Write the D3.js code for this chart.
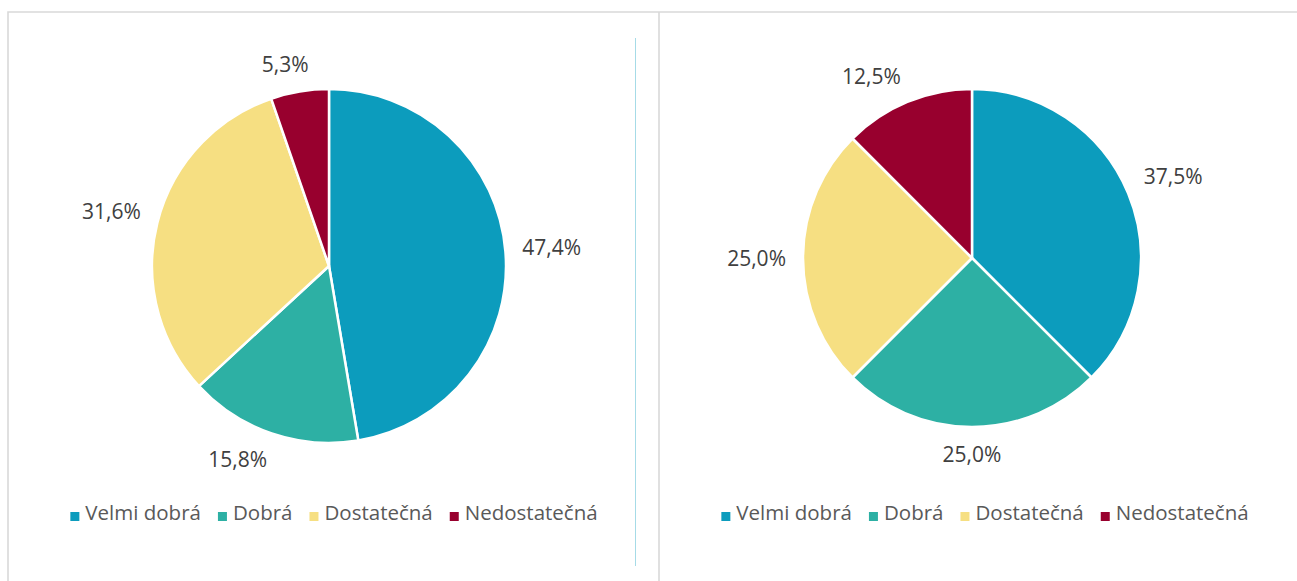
<!DOCTYPE html>
<html>
<head>
<meta charset="utf-8">
<script src="https://cdn.jsdelivr.net/npm/d3@7"></script>
<style>
  body { margin: 0; background: #fff; }
  svg { display: block; font-family: "Open Sans", sans-serif; }
</style>
</head>
<body>
<svg id="mysvg" width="1297" height="581"></svg>
<script>
let categories = ["Velmi dobrá", "Dobrá", "Dostatečná", "Nedostatečná"];
let sliceColors = ["#0c9cbd", "#2db0a4", "#f6df82", "#98002e"];
let valuesLeft = [47.4, 15.8, 31.6, 5.3];
let valuesRight = [37.5, 25.0, 25.0, 12.5];

let svg = d3.select('#mysvg');
let color = d3.scaleOrdinal().domain(categories).range(sliceColors);
let fmt = v => d3.format(".1f")(v).replace(".", ",") + "%";

// chart frames (top and left edges visible, rest runs off the page)
svg.append("path")
    .attr("d", "M8,582 V12 H1300")
    .attr("fill", "none")
    .attr("stroke", "#d9d9d9")
    .attr("stroke-width", 1.6);
svg.append("line")
    .attr("x1", 659).attr("x2", 659)
    .attr("y1", 12).attr("y2", 582)
    .attr("stroke", "#d9d9d9")
    .attr("stroke-width", 1.6);
svg.append("line")
    .attr("x1", 635.5).attr("x2", 635.5)
    .attr("y1", 38).attr("y2", 566)
    .attr("stroke", "#a6dbe7")
    .attr("stroke-width", 1);

function clamp1(v) { return Math.max(-1, Math.min(1, v)); }

function drawPie(values, cx, cy, r, legendCx)
{
    let data = categories.map((c, i) => ({name: c, value: values[i]}));
    let pie = d3.pie().sort(null).value(d => d.value);
    let arc = d3.arc().innerRadius(0).outerRadius(r);
    let arcs = pie(data);

    let g = svg.append("g").attr("transform", "translate(" + cx + "," + cy + ")");

    g.selectAll("path.slice")
        .data(arcs)
        .enter()
        .append("path")
        .attr("class", "slice")
        .attr("d", arc)
        .attr("fill", d => color(d.data.name))
        .attr("stroke", "white")
        .attr("stroke-width", 2.5)
        .attr("stroke-linejoin", "round");

    // labels outside the end of each slice, box pushed away from the rim
    let labels = g.selectAll("text.lbl")
        .data(arcs)
        .enter()
        .append("text")
        .attr("class", "lbl")
        .attr("text-anchor", "middle")
        .attr("font-size", 21)
        .attr("fill", "#404040")
        .text(d => fmt(d.data.value));

    labels.each(function(d) {
        let w = this.getComputedTextLength();
        let h = 20;
        let a = (d.startAngle + d.endAngle) / 2;
        let s = Math.sin(a), c = -Math.cos(a);
        let rr = r + 17;
        let x = rr * s + clamp1(3 * s) * w / 2;
        let y = rr * c + clamp1(3 * c) * h / 2;
        d3.select(this)
            .attr("x", x)
            .attr("y", y + 7.5);
    });

    // legend
    let leg = svg.append("g");
    let items = leg.selectAll("g.item")
        .data(categories)
        .enter()
        .append("g")
        .attr("class", "item");
    items.append("rect")
        .attr("width", 9).attr("height", 9)
        .attr("y", -8)
        .attr("fill", d => color(d));
    items.append("text")
        .attr("x", 15)
        .attr("font-size", 20.5)
        .attr("fill", "#595959")
        .text(d => d);

    let x = 0;
    items.each(function() {
        let tw = d3.select(this).select("text").node().getComputedTextLength();
        d3.select(this).attr("transform", "translate(" + x + ",0)");
        x += 15 + tw + 17;
    });
    let total = x - 17;
    leg.attr("transform", "translate(" + (legendCx - total / 2) + ",520)");
}

drawPie(valuesLeft, 329, 266, 177, 334);
drawPie(valuesRight, 972, 258, 169, 985);
</script>
</body>
</html>
